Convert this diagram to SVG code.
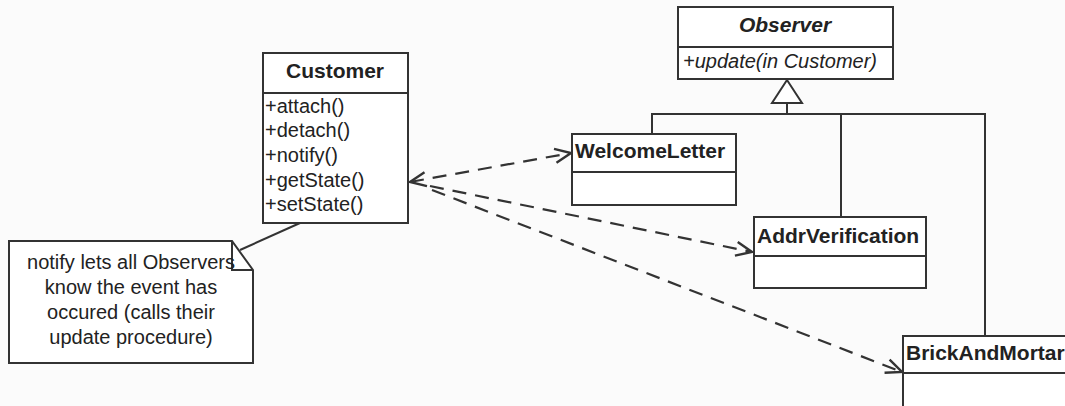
<svg xmlns="http://www.w3.org/2000/svg" width="1065" height="406" viewBox="0 0 1065 406">
<defs>
<style>
.box{fill:#ffffff;stroke:#333;stroke-width:2}
.ln{fill:none;stroke:#333;stroke-width:2}
.dash{fill:none;stroke:#333;stroke-width:2.2;stroke-dasharray:14 9}
.t{font-family:"Liberation Sans",Arial,sans-serif;font-size:20px;fill:#222}
.b{font-weight:bold;font-size:21px}
.i{font-style:italic}
.c{text-anchor:middle}
</style>
<marker id="open" viewBox="0 0 20 20" refX="18" refY="10" markerWidth="20" markerHeight="20" markerUnits="userSpaceOnUse" orient="auto-start-reverse">
<path d="M2,3 L18,10 L2,17" fill="none" stroke="#333" stroke-width="2.4"/>
</marker>
</defs>
<rect width="1065" height="406" fill="#fbfbfb"/>
<g id="connectors">
<line class="ln" x1="240" y1="250" x2="300" y2="223"/>
<path class="ln" d="M652,134 V114 H985 V336"/>
<line class="ln" x1="841" y1="114" x2="841" y2="217"/>
<line class="ln" x1="787" y1="103" x2="787" y2="114"/>
<polygon points="787,80 772,103 802,103" fill="#fff" stroke="#333" stroke-width="2"/>
<line class="dash" x1="410" y1="182" x2="571" y2="153" marker-start="url(#open)" marker-end="url(#open)"/>
<line class="dash" x1="430" y1="186" x2="752" y2="252" marker-end="url(#open)"/>
<line class="dash" x1="432" y1="190" x2="902" y2="372" marker-end="url(#open)"/>
</g>
<g id="customer">
<rect class="box" x="263" y="53" width="145" height="170"/>
<line class="ln" x1="263" y1="93" x2="408" y2="93"/>
<text class="t b c" x="335" y="78">Customer</text>
<text class="t" x="265" y="113">+attach()</text>
<text class="t" x="265" y="137">+detach()</text>
<text class="t" x="265" y="162">+notify()</text>
<text class="t" x="265" y="187">+getState()</text>
<text class="t" x="265" y="211">+setState()</text>
</g>
<g id="observer">
<rect class="box" x="678" y="7" width="215" height="72"/>
<line class="ln" x1="678" y1="47" x2="893" y2="47"/>
<text class="t b i c" x="785" y="32">Observer</text>
<text class="t i" x="683" y="68">+update(in Customer)</text>
</g>
<g id="welcomeletter">
<rect class="box" x="572" y="134" width="164" height="71"/>
<line class="ln" x1="572" y1="172" x2="736" y2="172"/>
<text class="t b" x="575" y="158">WelcomeLetter</text>
</g>
<g id="addrverification">
<rect class="box" x="754" y="217" width="172" height="71"/>
<line class="ln" x1="754" y1="256" x2="926" y2="256"/>
<text class="t b" x="757" y="243">AddrVerification</text>
</g>
<g id="brickandmortar">
<rect class="box" x="903" y="336" width="175" height="90"/>
<line class="ln" x1="903" y1="373" x2="1065" y2="373"/>
<text class="t b" x="906" y="360">BrickAndMortar</text>
</g>
<g id="note">
<path class="box" d="M9,241 H232 L253,270 V363 H9 Z"/>
<path class="ln" d="M232,241 V270 H253"/>
<text class="t c" x="131" y="269">notify lets all Observers</text>
<text class="t c" x="131" y="294">know the event has</text>
<text class="t c" x="131" y="319">occured (calls their</text>
<text class="t c" x="131" y="344">update procedure)</text>
</g>
</svg>
